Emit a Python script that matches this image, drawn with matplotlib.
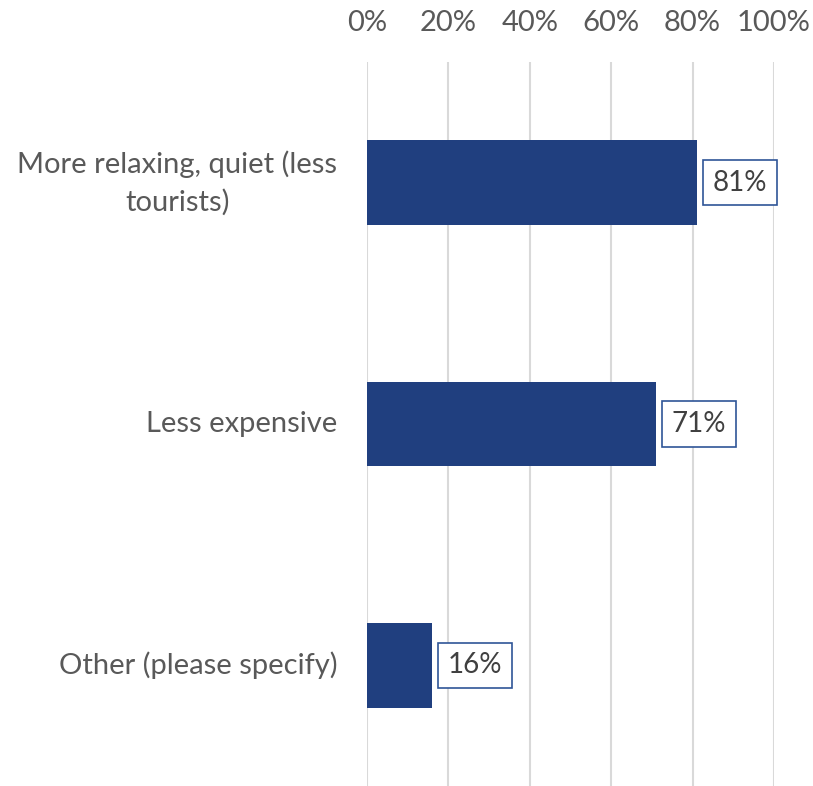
import matplotlib
matplotlib.use("Agg")
import matplotlib.pyplot as plt

categories = ["More relaxing, quiet (less\ntourists)", "Less expensive", "Other (please specify)"]
values = [81, 71, 16]
ticks = [0, 20, 40, 60, 80, 100]
tick_labels = ["0%", "20%", "40%", "60%", "80%", "100%"]

plt.rcParams['font.family'] = ['Lato', 'DejaVu Sans']
W, H = 813, 786
fig = plt.figure(figsize=(W/100, H/100), dpi=100)
ax = fig.add_axes([367/W, 0, (774-367)/W, (786-62)/H])

bar_color = "#203F7F"
text_color = "#595959"
ypos = list(range(len(categories)))
ax.barh(ypos, values, height=0.35, color=bar_color, zorder=3)
ax.set_xlim(0, 100)
ax.set_ylim(2.5, -0.5)
ax.set_xticks(ticks)
ax.set_xticklabels(tick_labels)
ax.xaxis.tick_top()
ax.tick_params(axis='x', length=0, pad=19, labelsize=21, labelcolor=text_color)
ax.set_yticks(ypos)
ax.set_yticklabels(categories, multialignment='center', linespacing=1.5, va='center')
ax.tick_params(axis='y', length=0, pad=21.5, labelsize=21, labelcolor=text_color)
ax.grid(axis='x', color="#D9D9D9", linewidth=1.5, zorder=0)
for s in ax.spines.values():
    s.set_visible(False)

for y, v in zip(ypos, values):
    ax.annotate(f"{v}%", xy=(v, y), xytext=(16, 0), textcoords='offset pixels',
                ha='left', va='center', fontsize=20, color="#404040",
                bbox=dict(boxstyle='square,pad=0.35', facecolor='white', edgecolor='#2F5597', linewidth=1.2),
                zorder=4)

fig.savefig("out.png", dpi=100)
